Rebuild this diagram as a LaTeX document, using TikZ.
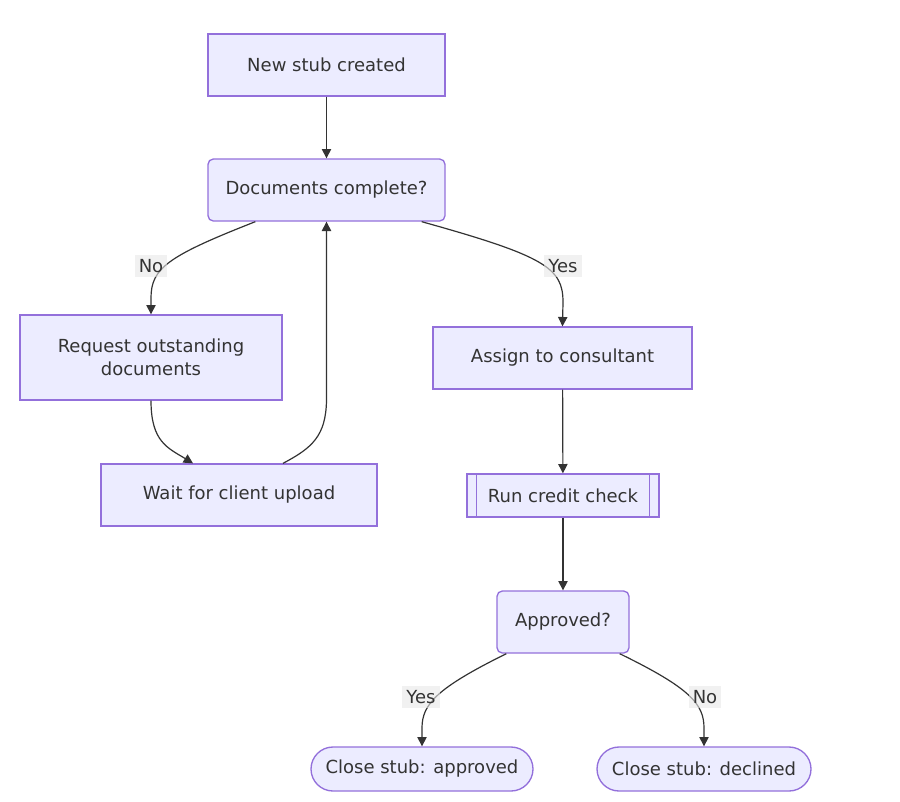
\documentclass[tikz,border=0pt]{standalone}
\usepackage{fontspec}
\setmainfont{DejaVu Sans}
\usetikzlibrary{arrows.meta}
\definecolor{nodefill}{HTML}{ECECFF}
\definecolor{nodeline}{HTML}{9370DB}
\definecolor{ink}{HTML}{333333}
\definecolor{lblbg}{HTML}{E8E8E8}
\begin{document}
\begin{tikzpicture}[x=0.75pt, y=-0.75pt,
  every node/.style={font=\fontsize{13.5}{17.25}\selectfont, text=ink},
  box/.style={draw=nodeline, fill=nodefill, line width=1pt,
    minimum height=46.5pt, align=center, inner sep=0pt},
  roundbox/.style={box, rounded corners=4pt},
  subbox/.style={box, minimum height=32.25pt},
  stadium/.style={box, minimum height=33pt, rounded corners=16.5pt},
  flow/.style={draw=ink, line width=0.9pt, -{Triangle[length=7pt,width=7pt]}},
  lbl/.style={fill=lblbg, fill opacity=0.6, text opacity=1, inner sep=3pt}]
\useasboundingbox (0,0) rectangle (900,801);
%
% ---- Nodes ----
\node[box, minimum width=177.75pt] (A) at (326.5,65) {New stub created};
\node[roundbox, minimum width=177.75pt] (B) at (326.5,190) {Documents complete?};
\node[box, minimum width=196.5pt, minimum height=63.75pt] (C) at (151,357.5)
  {Request outstanding\\documents};
\node[box, minimum width=207pt] (D) at (239,495) {Wait for client upload};
\node[box, minimum width=194.25pt] (E) at (562.5,358) {Assign to consultant};
\node[subbox, minimum width=144pt] (F) at (563,495.5) {Run credit check};
\node[roundbox, minimum width=99pt] (G) at (563,622) {Approved?};
\node[stadium, minimum width=166.5pt] (H) at (422,769) {Close stub: approved};
\node[stadium, minimum width=160.5pt] (I) at (704,769) {Close stub: declined};
%
% ---- Subroutine bars ----
\draw[draw=nodeline, line width=1pt] ([xshift=7.5pt]F.north west) -- ([xshift=7.5pt]F.south west);
\draw[draw=nodeline, line width=1pt] ([xshift=-7.5pt]F.north east) -- ([xshift=-7.5pt]F.south east);
%
% ---- Flow ----
\draw[flow] (A) -- (B);
\draw[flow] ([xshift=36pt]B.south west) .. controls (168,256) and (151,268)
  .. (151,298) -- (C.north);
\draw[flow] ([xshift=-18pt]B.south east) .. controls (545,256) and (563,268)
  .. (563,302) -- (E.north);
\draw[flow] (C.south) .. controls (151,442) and (168,448) .. ([xshift=-34.5pt]D.north);
\draw[flow] ([xshift=33pt]D.north) .. controls (312,448) and (326,436)
  .. (326.5,400) -- (B.south);
\draw[flow] (E) -- (F);
\draw[flow] (F) -- (G);
\draw[flow] ([xshift=7.5pt]G.south west) .. controls (437,688) and (422,704)
  .. (422,728) -- (H.north);
\draw[flow] ([xshift=-7.5pt]G.south east) .. controls (690,688) and (704,704)
  .. (704,728) -- (I.north);
%
% ---- Edge labels ----
\node[lbl] (noA) at (151,266) {No};
\node[lbl] (yesA) at (563,266) {Yes};
\node[lbl] (yesB) at (421,697) {Yes};
\node[lbl] (noB) at (705,697) {No};
\end{tikzpicture}
\end{document}
